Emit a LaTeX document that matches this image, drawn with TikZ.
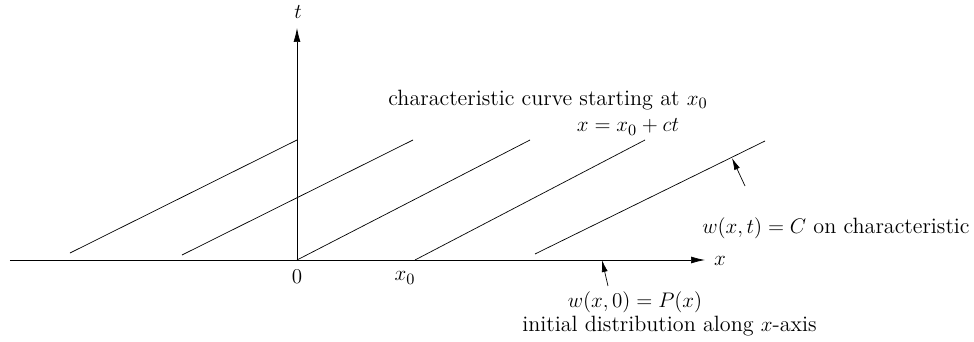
\documentclass[tikz,border=0pt]{standalone}
\usetikzlibrary{arrows.meta, positioning, calc}

\begin{document}
\begin{tikzpicture}[
  font=\fontsize{12.6}{15}\selectfont,
  axis/.style={thin, -{Latex[length=2.8mm, width=1.4mm]}},
  charline/.style={thin},
  pointer/.style={thin, -{Latex[length=2.4mm, width=1.2mm]}},
  lbl/.style={inner sep=1pt},
]
\useasboundingbox (-5.94,-1.64) rectangle (13.54,5.2);

% ---- axes ----
\coordinate (O) at (0,0);
\coordinate (xl) at (-5.74,0);
\coordinate (xr) at (8.16,0);
\coordinate (tt) at (0,4.64);
\draw[axis] (xl) -- (xr);
\draw[axis] (O) -- (tt);
\node[lbl] (tlab) at (0.02,4.96) {$t$};
\node[lbl] (xlab) at (8.46,-0.02) {$x$};
\node[lbl] (zero) at (0,-0.34) {$0$};
\node[lbl] (xnull) at (2.16,-0.36) {$x_0$};

% ---- characteristics ----
\coordinate (s1) at (-4.54,0.14);  \coordinate (e1) at (0,2.4);
\coordinate (s2) at (-2.3,0.10);   \coordinate (e2) at (2.32,2.4);
\coordinate (s3) at (0,0);         \coordinate (e3) at (4.66,2.4);
\coordinate (s4) at (2.36,0);      \coordinate (e4) at (6.96,2.4);
\coordinate (s5) at (4.76,0.12);   \coordinate (e5) at (9.36,2.38);
\draw[charline] (s1) -- (e1);
\draw[charline] (s2) -- (e2);
\draw[charline] (s3) -- (e3);
\draw[charline] (s4) -- (e4);
\draw[charline] (s5) -- (e5);

% ---- labels ----
\node[lbl] (curve) at (5.02,3.2) {characteristic curve starting at $x_0$};
\node[lbl] (eqn) at (6.62,2.66) {$x=x_0+ct$};
\node[lbl] (const) at (10.78,0.64) {$w(x,t)=C$ on characteristic};
\node[lbl] (init) at (6.76,-0.84) {$w(x,0)=P(x)$};
\node[lbl] (dist) at (7.45,-1.32) {initial distribution along $x$-axis};

% ---- pointers ----
\coordinate (p1) at (8.96,1.48);
\coordinate (h1) at (8.7,2.04);
\coordinate (p2) at (6.22,-0.52);
\coordinate (h2) at (6.1,0);
\draw[pointer] (p1) -- (h1);
\draw[pointer] (p2) -- (h2);

\end{tikzpicture}
\end{document}
